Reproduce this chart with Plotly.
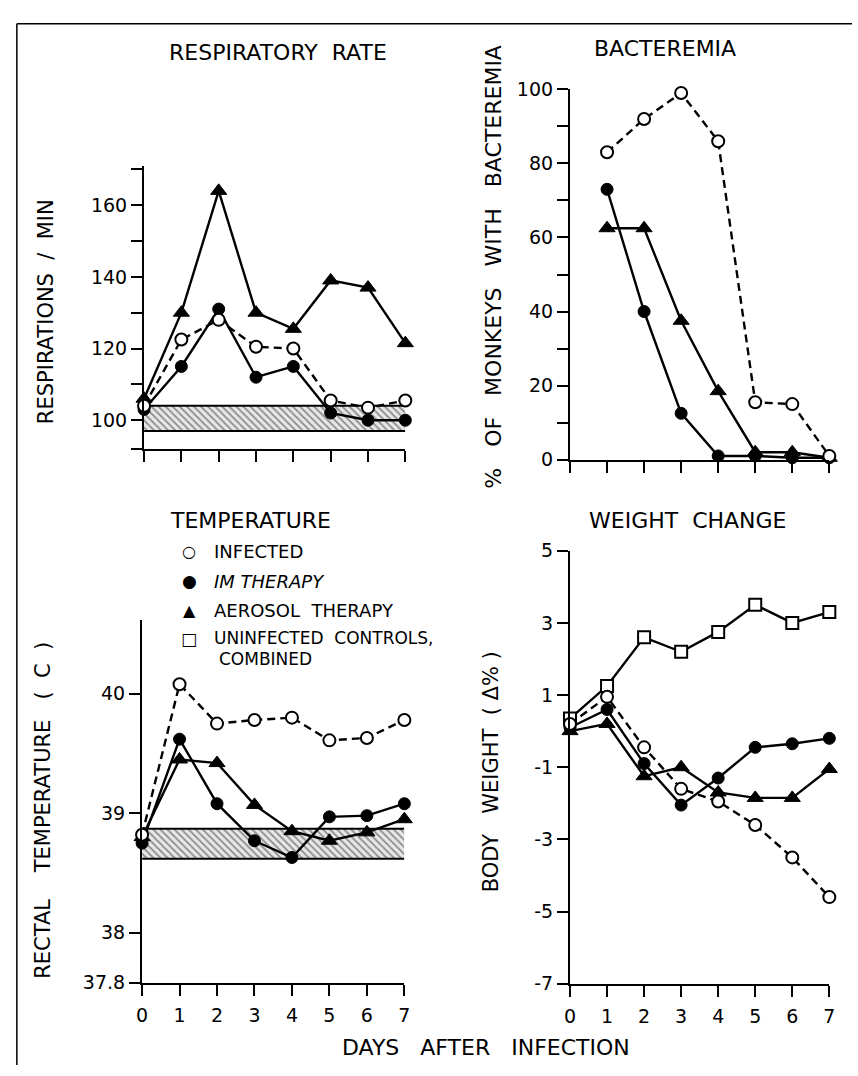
import plotly.graph_objects as go

# ---------------- data ----------------
days = [0, 1, 2, 3, 4, 5, 6, 7]
days_bact = [1, 2, 3, 4, 5, 6, 7]

resp_infected = [104, 122.5, 128, 120.5, 120, 105.5, 103.5, 105.5]
resp_im = [103, 115, 131, 112, 115, 102, 100, 100]
resp_aerosol = [106, 130, 164, 130, 125.5, 139, 137, 121.5]
resp_ctrl_low = 97
resp_ctrl_high = 104

bact_infected = [83, 92, 99, 86, 15.5, 15, 1]
bact_im = [73, 40, 12.5, 1, 1, 0.5, 0.5]
bact_aerosol = [62.5, 62.5, 37.5, 18.5, 2, 2, 0.5]

temp_infected = [38.82, 40.08, 39.75, 39.78, 39.8, 39.61, 39.63, 39.78]
temp_im = [38.75, 39.62, 39.08, 38.77, 38.63, 38.97, 38.98, 39.08]
temp_aerosol = [38.8, 39.45, 39.42, 39.07, 38.85, 38.77, 38.84, 38.95]
temp_ctrl_low = 38.62
temp_ctrl_high = 38.87

wt_infected = [0.2, 0.95, -0.45, -1.6, -1.95, -2.6, -3.5, -4.6]
wt_im = [0.1, 0.6, -0.9, -2.05, -1.3, -0.45, -0.35, -0.2]
wt_aerosol = [0.0, 0.2, -1.25, -1.0, -1.7, -1.85, -1.85, -1.05]
wt_ctrl = [0.35, 1.25, 2.6, 2.2, 2.75, 3.5, 3.0, 3.3]

resp_ticks = [100, 120, 140, 160]
bact_ticks = [0, 20, 40, 60, 80, 100]
temp_ticks = [38, 39, 40]
wt_ticks = [-7, -5, -3, -1, 1, 3, 5]

# ---------------- layout helpers ----------------
W, H = 858, 1076
FONT = "DejaVu Sans"


def dx(a, b):
    return [a / W, b / W]


def dy(top, bottom):
    return [1 - bottom / H, 1 - top / H]


def px(x):
    return x / W


def py(y):
    return 1 - y / H


fig = go.Figure()

LW = 2.4
open_marker = dict(symbol="circle", size=12, color="white", line=dict(color="black", width=2))
fill_marker = dict(symbol="circle", size=12, color="black", line=dict(color="black", width=1))
tri_marker = dict(symbol="triangle-up", size=14, color="black", line=dict(color="black", width=1))
sq_marker = dict(symbol="square", size=12, color="white", line=dict(color="black", width=2))


def band(xa, ya, lo, hi):
    xs = days + days[::-1]
    ys = [hi] * len(days) + [lo] * len(days)
    fig.add_trace(go.Scatter(
        x=xs, y=ys, xaxis=xa, yaxis=ya, mode="lines", fill="toself",
        line=dict(width=0), fillcolor="rgba(255,255,255,0)",
        fillpattern=dict(shape="\\", size=5, solidity=0.35, fgcolor="#333", bgcolor="#e8e8e8"),
        hoverinfo="skip", showlegend=False))
    for v in (lo, hi):
        fig.add_trace(go.Scatter(
            x=[days[0], days[-1]], y=[v, v], xaxis=xa, yaxis=ya, mode="lines",
            line=dict(color="black", width=2), hoverinfo="skip", showlegend=False))


def series(xa, ya, x, y, marker, dash="solid"):
    fig.add_trace(go.Scatter(
        x=x, y=y, xaxis=xa, yaxis=ya, mode="lines+markers",
        line=dict(color="black", width=LW, dash=dash), marker=marker,
        cliponaxis=False, showlegend=False))


DASH = "8px,5px"

# Respiratory rate (x1/y1)
band("x", "y", resp_ctrl_low, resp_ctrl_high)
series("x", "y", days, resp_aerosol, tri_marker)
series("x", "y", days, resp_im, fill_marker)
series("x", "y", days, resp_infected, open_marker, DASH)

# Bacteremia (x2/y2)
series("x2", "y2", days_bact, bact_aerosol, tri_marker)
series("x2", "y2", days_bact, bact_im, fill_marker)
series("x2", "y2", days_bact, bact_infected, open_marker, DASH)

# Temperature (x3/y3)
band("x3", "y3", temp_ctrl_low, temp_ctrl_high)
series("x3", "y3", days, temp_aerosol, tri_marker)
series("x3", "y3", days, temp_im, fill_marker)
series("x3", "y3", days, temp_infected, open_marker, DASH)

# Weight change (x4/y4)
series("x4", "y4", days, wt_ctrl, sq_marker)
series("x4", "y4", days, wt_aerosol, tri_marker)
series("x4", "y4", days, wt_im, fill_marker)
series("x4", "y4", days, wt_infected, open_marker, DASH)

axis_common = dict(showline=True, linecolor="black", linewidth=2.2, ticks="outside",
                   ticklen=11, tickwidth=2.2, tickcolor="black", showgrid=False,
                   zeroline=False, tickfont=dict(family=FONT, size=19, color="black"))

# y-range for temperature: 40 at 697px, 39 at 819px, axis from 622px to 992px
t_top, t_bot = 622, 992
t40, t39 = 697, 819
slope = t39 - t40
temp_range = [40 - (t_bot - t40) / slope, 40 + (t40 - t_top) / slope]

resp_range = [92, 171]

fig.update_layout(
    width=W, height=H, margin=dict(l=0, r=0, t=0, b=0),
    paper_bgcolor="white", plot_bgcolor="white",
    font=dict(family=FONT, color="black"),
    xaxis=dict(domain=dx(140, 405), range=[0, 7], tickvals=days, showticklabels=False,
               anchor="y", **axis_common),
    yaxis=dict(domain=dy(158, 447), range=resp_range,
               tickvals=[resp_range[0], 110, 130, 150, 170] + resp_ticks,
               ticktext=["", "", "", "", ""] + [str(v) for v in resp_ticks],
               anchor="x", **axis_common),
    xaxis2=dict(domain=dx(572, 835), range=[0, 7], tickvals=days, showticklabels=False,
                anchor="y2", **axis_common),
    yaxis2=dict(domain=dy(80, 458), range=[0, 100],
                tickvals=[10, 30, 50, 70, 90] + bact_ticks,
                ticktext=[""] * 5 + [str(v) for v in bact_ticks],
                anchor="x2", **axis_common),
    xaxis3=dict(domain=dx(138, 404), range=[0, 7], tickvals=days,
                ticktext=[str(d) for d in days], anchor="y3", ticklabelstandoff=3,
                **axis_common),
    yaxis3=dict(domain=dy(t_top, t_bot), range=temp_range,
                tickvals=[temp_range[0]] + temp_ticks,
                ticktext=["37.8"] + [str(v) for v in temp_ticks],
                anchor="x3", **axis_common),
    xaxis4=dict(domain=dx(572, 835), range=[0, 7], tickvals=days,
                ticktext=[str(d) for d in days], anchor="y4", ticklabelstandoff=3,
                **axis_common),
    yaxis4=dict(domain=dy(551, 993), range=[-7, 5], tickvals=wt_ticks,
                ticktext=[str(v) for v in wt_ticks], anchor="x4", **axis_common),
)


def text(s, x, y, size=17, angle=0, xanchor="center"):
    fig.add_annotation(text=s, x=px(x), y=py(y), xref="paper", yref="paper",
                       showarrow=False, textangle=angle, xanchor=xanchor, yanchor="middle",
                       font=dict(family=FONT, size=size, color="black"))


# panel titles
text("RESPIRATORY  RATE", 276, 42, 22)
text("BACTEREMIA", 668, 38, 22)
text("TEMPERATURE", 248, 520, 22)
text("WEIGHT  CHANGE", 692, 520, 22)

# axis titles
text("RESPIRATIONS  /  MIN", 40, 307, 21, -90)
text("%   OF   MONKEYS   WITH   BACTEREMIA", 495, 261, 22, -90)
text("RECTAL    TEMPERATURE   (  C  )", 38, 816, 21, -90)
text("BODY   WEIGHT  ( \u0394% )", 492, 777, 21, -90)
text("DAYS   AFTER   INFECTION", 487, 1058, 22)

# legend
text("\u25CB", 186, 552, 16)
text("\u25CF", 186, 582, 17)
text("\u25B2", 186, 612, 16)
text("\u25A1", 186, 641, 17)
text("INFECTED", 209, 552, 18, xanchor="left")
text("<i>IM THERAPY</i>", 209, 582, 18, xanchor="left")
text("AEROSOL  THERAPY", 209, 612, 18, xanchor="left")
text("UNINFECTED  CONTROLS,", 209, 640, 17, xanchor="left")
text("COMBINED", 214, 662, 17, xanchor="left")

# frame
fig.add_shape(type="line", xref="paper", yref="paper", x0=px(11), x1=px(11), y0=0, y1=py(13),
              line=dict(color="black", width=1.5))
fig.add_shape(type="line", xref="paper", yref="paper", x0=px(11), x1=1, y0=py(13), y1=py(13),
              line=dict(color="black", width=1.5))

fig.write_html("out.html", config={"displayModeBar": False},
               post_script="document.body.style.margin='0px';document.body.style.overflow='hidden';")
